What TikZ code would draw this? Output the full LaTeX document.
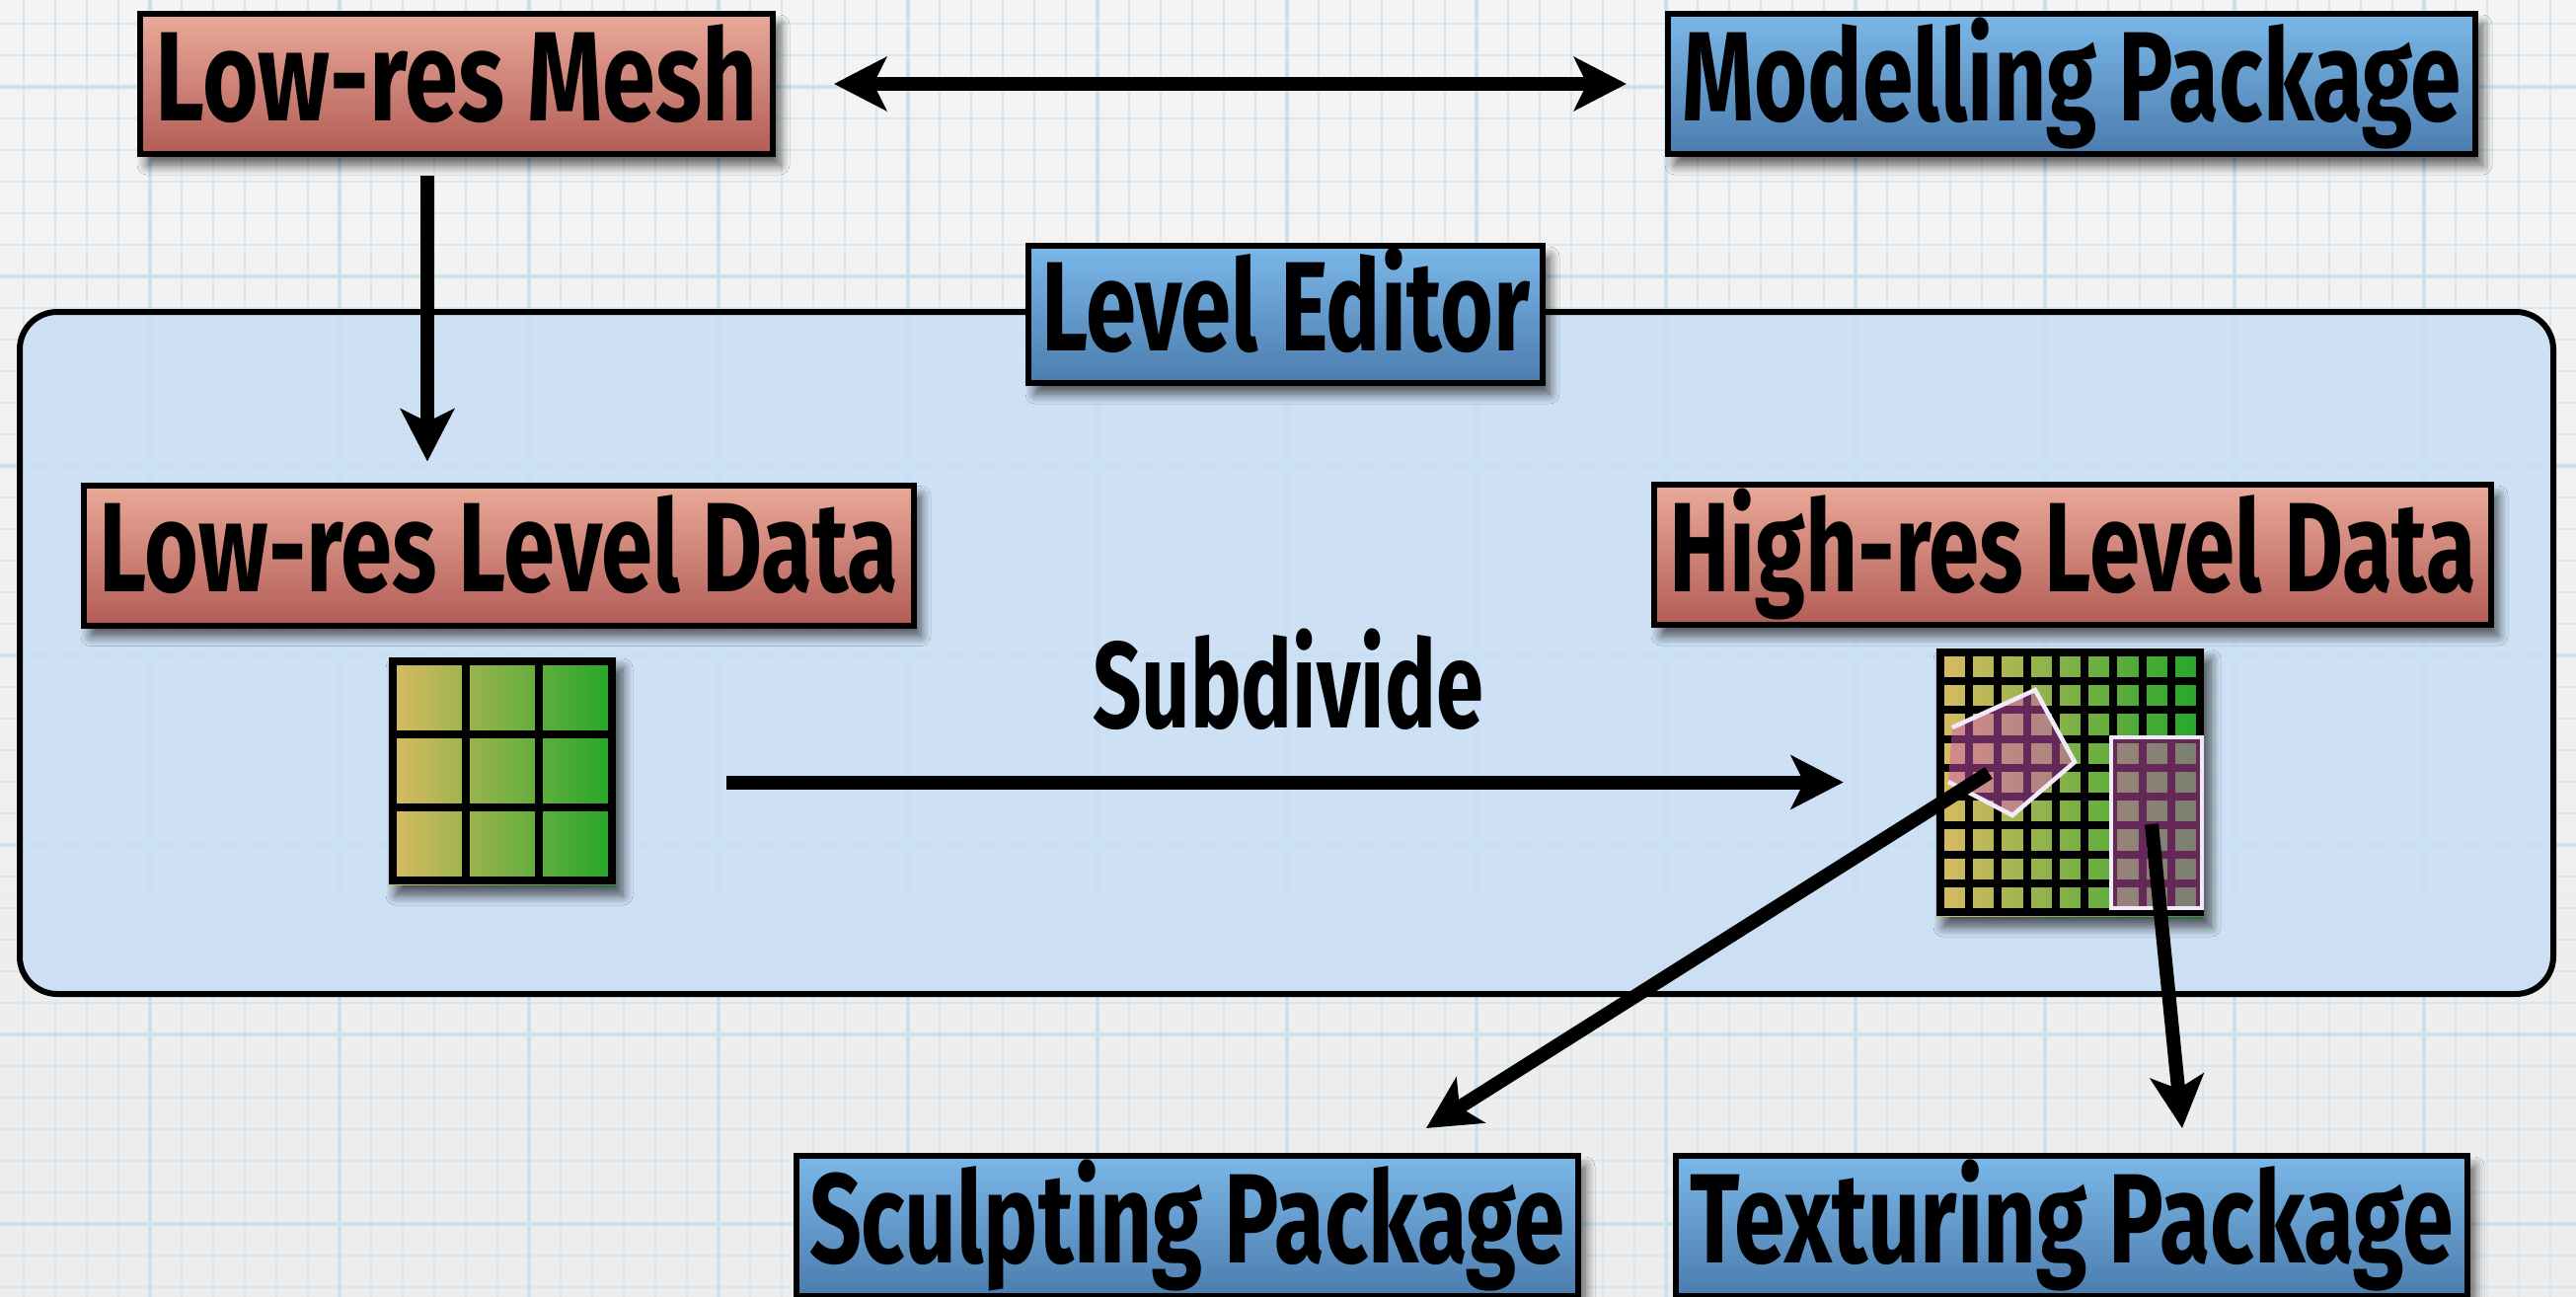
\documentclass[tikz,border=0pt]{standalone}
\usepackage{fontspec}
\setmainfont{Fira Sans}
\usetikzlibrary{arrows.meta,shadows.blur,calc}

\definecolor{paper}{RGB}{240,240,240}
\definecolor{papertop}{RGB}{244,244,244}
\definecolor{paperbot}{RGB}{236,236,236}
\definecolor{gridminor}{RGB}{214,232,238}
\definecolor{gridmajor}{RGB}{204,226,235}
\definecolor{redtop}{RGB}{234,170,154}
\definecolor{redbot}{RGB}{178,92,86}
\definecolor{bluetop}{RGB}{122,184,232}
\definecolor{bluebot}{RGB}{76,124,174}
\definecolor{editorfill}{RGB}{200,222,245}
\definecolor{cellyellow}{RGB}{220,187,98}
\definecolor{cellgreen}{RGB}{33,166,42}
\definecolor{selfill}{RGB}{212,87,187}
\definecolor{seledge}{RGB}{242,234,250}

% squeeze a label horizontally to a given width, keeping its height
\newcommand\labeltext[2]{\resizebox{#1}{\height}{#2}}

\begin{document}
\begin{tikzpicture}[x=1pt,y=-1pt,
  softshadow/.style={blur shadow={shadow xshift=7pt, shadow yshift=-11pt,
      shadow blur radius=10pt, shadow blur steps=10, shadow opacity=65}},
  box/.style={draw=black, line width=6pt, minimum height=142pt, inner sep=0pt,
      text height=100pt, text depth=26pt,
      font=\fontsize{129pt}{140pt}\selectfont\bfseries, softshadow},
  redbox/.style={box, top color=redtop, bottom color=redbot},
  bluebox/.style={box, top color=bluetop, bottom color=bluebot},
  arr/.style={line width=14pt, -{Stealth[length=53pt,width=54pt,inset=13pt]}},
  dblarr/.style={line width=14pt, {Stealth[length=53pt,width=54pt,inset=13pt]}-{Stealth[length=53pt,width=54pt,inset=13pt]}},
  cellgrid/.style={inner sep=0pt, left color=cellyellow, right color=cellgreen, softshadow},
  gridline/.style={line width=8pt, black},
  selection/.style={fill=selfill, fill opacity=0.48},
  seledgeline/.style={draw=seledge, line width=4.5pt, line join=miter},
]
\useasboundingbox (0,0) rectangle (2610,1314);

% graph paper
\shade[top color=papertop, bottom color=paperbot] (0,0) rectangle (2610,1314);
\foreach \x in {24,56,...,2600} \draw[gridminor, line width=2pt] (\x,0) -- (\x,1314);
\foreach \y in {24,56,...,1310} \draw[gridminor, line width=2pt] (0,\y) -- (2610,\y);
\foreach \x in {152,344,...,2600} \draw[gridmajor, line width=4pt] (\x,0) -- (\x,1314);
\foreach \y in {88,280,...,1310} \draw[gridmajor, line width=4pt] (0,\y) -- (2610,\y);

% level editor panel
\node[draw=black, line width=6pt, fill=editorfill, fill opacity=0.85,
      rounded corners=38pt, minimum width=2567pt, minimum height=691pt, inner sep=0pt]
      (panel) at (1303.5,661.5) {};

% boxes
\node[redbox,  minimum width=641pt] (mesh)    at (462.5,85)   {\labeltext{610pt}{Low-res Mesh}};
\node[bluebox, minimum width=818pt] (model)   at (2099,85)    {\labeltext{789pt}{Modelling Package}};
\node[bluebox, minimum width=521pt, minimum height=139pt] (editor) at (1302.5,318.5) {\labeltext{495pt}{Level Editor}};
\node[redbox,  minimum width=841pt] (lowdata) at (505.5,562.5) {\labeltext{809pt}{Low-res Level Data}};
\node[redbox,  minimum width=848pt] (highdata) at (2100,562)  {\labeltext{818pt}{High-res Level Data}};
\node[bluebox, minimum width=792pt] (sculpt)  at (1203,1242)  {\labeltext{766pt}{Sculpting Package}};
\node[bluebox, minimum width=802pt] (texture) at (2099,1242)  {\labeltext{773pt}{Texturing Package}};

% low-res 3x3 grid
\node[cellgrid, minimum size=230pt] (lowgrid) at (509,781) {};
\foreach \k in {-111,-37,37,111} {
  \draw[gridline] ($(lowgrid.center)+(\k,-115)$) -- ($(lowgrid.center)+(\k,115)$);
  \draw[gridline] ($(lowgrid.center)+(-115,\k)$) -- ($(lowgrid.center)+(115,\k)$);
}

% high-res 9x9 grid
\node[cellgrid, minimum size=271pt] (highgrid) at (2097.5,792.5) {};
\foreach \k in {0,...,9} {
  \pgfmathsetmacro\o{-131.5+29.222*\k}
  \draw[gridline] ($(highgrid.center)+(\o,-135.5)$) -- ($(highgrid.center)+(\o,135.5)$);
  \draw[gridline] ($(highgrid.center)+(-135.5,\o)$) -- ($(highgrid.center)+(135.5,\o)$);
}

% selected regions on the high-res grid
\fill[selection] (1978,737) -- (2062,699) -- (2102,772) -- (2039,826) -- (1974,792) -- cycle;
\draw[seledgeline] (1974,792) -- (2039,826) -- (2102,772) -- (2062,699) -- (1978,737);
\fill[selection] (2139,747) rectangle (2231,920);
\draw[seledgeline] (2139,747) rectangle (2231,920);

% subdivide label
\node[anchor=base, inner sep=0pt, font=\fontsize{124pt}{136pt}\selectfont\bfseries]
      (subdiv) at (1305,737) {\labeltext{396pt}{Subdivide}};

% connectors
\path (433,0) coordinate (vx);
\draw[arr, shorten <=19pt, shorten >=21pt] (mesh.south -| vx) -- (lowdata.north -| vx);
\draw[dblarr, shorten <=59pt, shorten >=39pt] (mesh.east) -- (model.west);
\draw[arr, shorten <=112pt, shorten >=94pt] (highgrid.west -| lowgrid.east) -- (highgrid.west);

\coordinate (pentc) at (2015,783);
\coordinate (sctip) at (1445,1143);
\coordinate (rectc) at (2180,835);
\coordinate (txtip) at (2211,1143);
\draw[arr] (pentc) -- (sctip);
\draw[arr] (rectc) -- (txtip);
\end{tikzpicture}
\end{document}
